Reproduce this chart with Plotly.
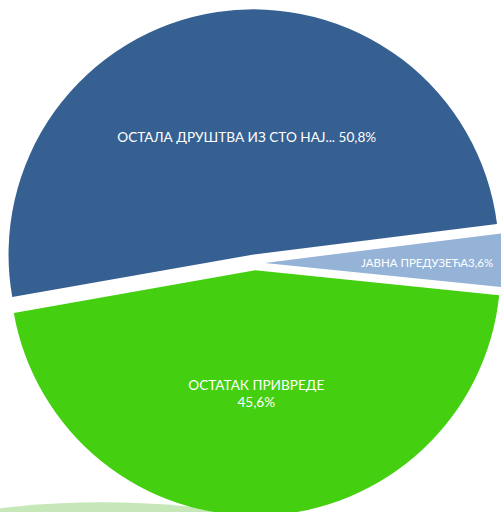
import plotly.graph_objects as go

labels = ["ОСТАЛА ДРУШТВА ИЗ СТО НАЈ...", "ЈАВНА ПРЕДУЗЕЋА", "ОСТАТАК ПРИВРЕДЕ"]
values = [50.8, 3.6, 45.6]
value_text = ["50,8%", "3,6%", "45,6%"]
colors = ["#366092", "#95B3D7", "#44D010"]
pulls = [0.035, 0.04, 0.03]
font_sizes = [13.6, 11.5, 13.6]

nb = "\u00a0"
texts = [
    f"{labels[0]} {value_text[0]}{nb * 4}<br> <br> <br><span style='font-size:7px'> </span>",
    f"{labels[1]}{value_text[1]}",
    f"{labels[2]}{nb * 2}<br>{value_text[2]}{nb * 2}",
]

fig = go.Figure(go.Pie(
    labels=labels,
    values=values,
    text=texts,
    textinfo="text",
    sort=False,
    direction="clockwise",
    rotation=260,
    pull=pulls,
    marker=dict(colors=colors, line=dict(width=0)),
    textposition="inside",
    insidetextorientation="horizontal",
    textfont=dict(family="Lato", size=font_sizes, color="white"),
    hoverinfo="skip",
    showlegend=False,
))

fig.update_layout(
    width=510,
    height=526,
    margin=dict(l=0, r=0, t=0, b=0),
    paper_bgcolor="white",
    plot_bgcolor="white",
    shapes=[dict(
        type="circle", xref="paper", yref="paper",
        x0=-0.2, x1=0.6, y0=-0.12, y1=0.045,
        fillcolor="#aedd98", opacity=0.7, line=dict(width=0), layer="below",
    )],
)

fig.write_html(
    "out.html",
    config={"displayModeBar": False},
    post_script="document.body.style.margin='0';document.body.style.overflow='hidden';",
)
